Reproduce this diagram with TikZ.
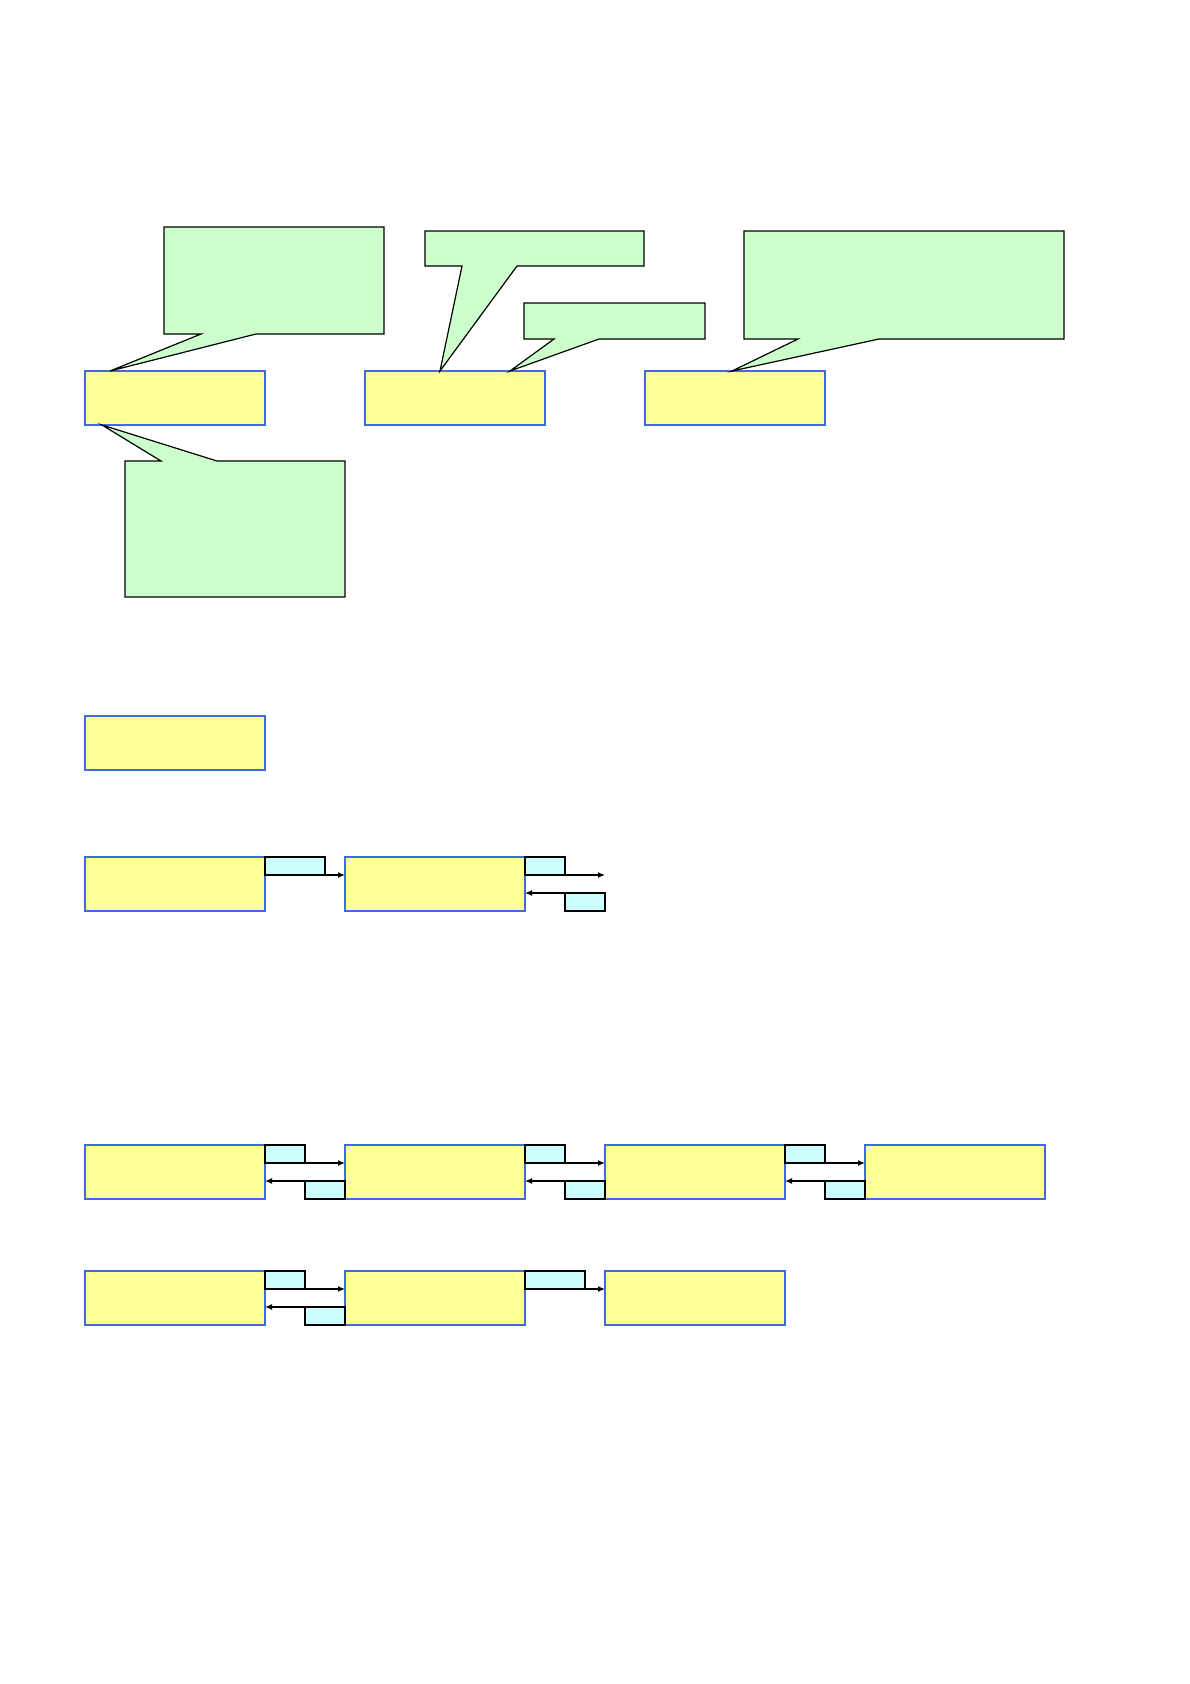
\documentclass[tikz,border=0pt]{standalone}
\usepackage{xcolor}
\usepackage{tikz}
\usetikzlibrary{arrows.meta, positioning, calc}

\definecolor{boxyellow}{HTML}{FFFF99}
\definecolor{boxblue}{HTML}{4169E1}
\definecolor{notegreen}{HTML}{CCFFCC}
\definecolor{tagcyan}{HTML}{CCFFFF}

\begin{document}
\begin{tikzpicture}[
  x=1pt, y=-1pt,
  node distance=80pt,
  block/.style={draw=boxblue, fill=boxyellow, line width=1.7pt, minimum width=180pt, minimum height=54pt, inner sep=0pt, outer sep=0pt, anchor=north west},
  note/.style={draw=black, fill=notegreen, line width=1.2pt, line join=miter},
  tag/.style={draw=black, fill=tagcyan, line width=1.7pt, minimum height=18pt, inner sep=0pt, outer sep=0pt},
  arrow/.style={-{Latex[length=7pt,width=6pt]}, line width=1.3pt}
]
\useasboundingbox (0,0) rectangle (1190,1684);

% top row with notes
\node[block] (top1) at (85,371) {};
\node[block, right=100pt of top1] (top2) {};
\node[block, right=100pt of top2] (top3) {};

\coordinate (tip1) at ($(top1.north west)+(25,0)$);
\coordinate (tip2) at ($(top2.north west)+(75,0)$);
\coordinate (tip3) at ($(top2.north west)+(145,0)$);
\coordinate (tip4) at ($(top3.north west)+(87,0)$);
\coordinate (tip5) at ($(top1.south west)+(17,0)$);

\draw[note] (tip1) -- (201,334) -- (164,334) -- (164,227) -- (384,227) -- (384,334) -- (256,334) -- cycle;
\draw[note] (tip2) -- (462,266) -- (425,266) -- (425,231) -- (644,231) -- (644,266) -- (517,266) -- cycle;
\draw[note] (tip3) -- (554,339) -- (524,339) -- (524,303) -- (705,303) -- (705,339) -- (599,339) -- cycle;
\draw[note] (tip4) -- (798,339) -- (744,339) -- (744,231) -- (1064,231) -- (1064,339) -- (879,339) -- cycle;
\draw[note] (tip5) -- (217,461) -- (345,461) -- (345,597) -- (125,597) -- (125,461) -- (161,461) -- cycle;

% single block
\node[block] (solo) at (85,716) {};

% two blocks
\node[block] (pa) at (85,857) {};
\node[block, right=of pa] (pb) {};
\node[tag, minimum width=60pt, anchor=north west] (pa-out) at (pa.north east) {};
\node[tag, minimum width=40pt, anchor=north west] (pb-out) at (pb.north east) {};
\node[tag, minimum width=40pt, anchor=south west] (pb-in) at ($(pb.south east)+(40,0)$) {};
\draw[arrow] (pa-out.south east) -- (pa-out.south east -| pb.west);
\draw[arrow] (pb-out.south east) -- ++(40,0);
\draw[arrow] (pb-in.north west) -- (pb-in.north west -| pb.east);

% four blocks
\node[block] (qa) at (85,1145) {};
\node[block, right=of qa] (qb) {};
\node[block, right=of qb] (qc) {};
\node[block, right=of qc] (qd) {};
\node[tag, minimum width=40pt, anchor=north west] (qa-out) at (qa.north east) {};
\node[tag, minimum width=40pt, anchor=north west] (qb-out) at (qb.north east) {};
\node[tag, minimum width=40pt, anchor=north west] (qc-out) at (qc.north east) {};
\node[tag, minimum width=40pt, anchor=south east] (qb-in) at (qb.south west) {};
\node[tag, minimum width=40pt, anchor=south east] (qc-in) at (qc.south west) {};
\node[tag, minimum width=40pt, anchor=south east] (qd-in) at (qd.south west) {};
\draw[arrow] (qa-out.south east) -- (qa-out.south east -| qb.west);
\draw[arrow] (qb-out.south east) -- (qb-out.south east -| qc.west);
\draw[arrow] (qc-out.south east) -- (qc-out.south east -| qd.west);
\draw[arrow] (qb-in.north west) -- (qb-in.north west -| qa.east);
\draw[arrow] (qc-in.north west) -- (qc-in.north west -| qb.east);
\draw[arrow] (qd-in.north west) -- (qd-in.north west -| qc.east);

% three blocks
\node[block] (ra) at (85,1271) {};
\node[block, right=of ra] (rb) {};
\node[block, right=of rb] (rc) {};
\node[tag, minimum width=40pt, anchor=north west] (ra-out) at (ra.north east) {};
\node[tag, minimum width=60pt, anchor=north west] (rb-out) at (rb.north east) {};
\node[tag, minimum width=40pt, anchor=south east] (rb-in) at (rb.south west) {};
\draw[arrow] (ra-out.south east) -- (ra-out.south east -| rb.west);
\draw[arrow] (rb-out.south east) -- (rb-out.south east -| rc.west);
\draw[arrow] (rb-in.north west) -- (rb-in.north west -| ra.east);

\end{tikzpicture}
\end{document}
